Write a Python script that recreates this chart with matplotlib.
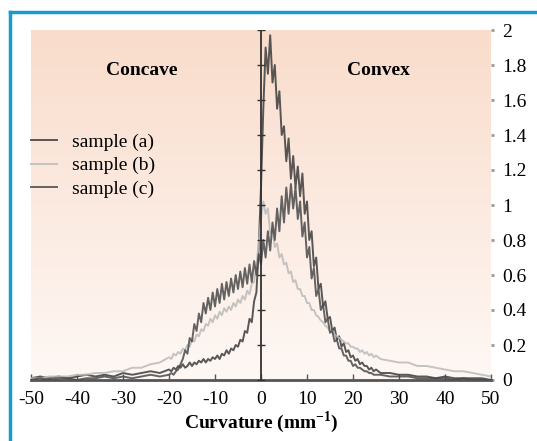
import numpy as np
import matplotlib
matplotlib.use("Agg")
import matplotlib.pyplot as plt
from matplotlib.colors import LinearSegmentedColormap
from matplotlib.lines import Line2D

plt.rcParams["font.family"] = ["Liberation Serif", "DejaVu Serif"]
plt.rcParams["mathtext.fontset"] = "custom"
plt.rcParams["mathtext.rm"] = "Liberation Serif"
plt.rcParams["mathtext.bf"] = "Liberation Serif:bold"

# curvature bins (coarse in the tails, fine in the middle)
x_left = np.arange(-50, -21, 2)
x_mid = np.arange(-20, 25.01, 0.5)
x_right = np.arange(26, 51, 2)
curv = np.concatenate([x_left, x_mid, x_right])

sample_a = [
    0.01, 0.02, 0.01, 0.02, 0.01, 0.02, 0.03, 0.02, 0.03, 0.02, 0.04, 0.03, 0.04, 0.05, 0.04,
    0.06, 0.05, 0.07, 0.06, 0.08, 0.07, 0.09, 0.07, 0.08, 0.10,
    0.08, 0.10, 0.09, 0.11, 0.10, 0.12, 0.10, 0.12, 0.11, 0.13,
    0.12, 0.14, 0.12, 0.15, 0.14, 0.17, 0.15, 0.18, 0.17, 0.20,
    0.19, 0.23, 0.22, 0.28, 0.27, 0.35, 0.33, 0.45, 0.50, 0.75,
    1.10, 1.55, 1.90, 1.75, 1.97, 1.70, 1.80, 1.55, 1.65, 1.40,
    1.45, 1.25, 1.38, 1.15, 1.28, 1.10, 1.22, 1.05, 1.18, 0.95,
    1.02, 0.80, 0.85, 0.65, 0.70, 0.52, 0.55, 0.42, 0.45, 0.35,
    0.36, 0.28, 0.30, 0.23, 0.25, 0.19, 0.21, 0.16, 0.17, 0.13,
    0.14, 0.11, 0.12, 0.09, 0.10, 0.08, 0.08, 0.06, 0.07, 0.05,
    0.06,
    0.04, 0.04, 0.03, 0.03, 0.02, 0.02, 0.01, 0.02, 0.01, 0.01, 0.01, 0.01, 0.00,
]

sample_b = [
    0.01, 0.01, 0.02, 0.02, 0.02, 0.03, 0.03, 0.04, 0.04, 0.05, 0.05, 0.07, 0.07, 0.09, 0.10,
    0.13, 0.12, 0.15, 0.14, 0.16, 0.15, 0.18, 0.17, 0.20, 0.19,
    0.23, 0.22, 0.26, 0.25, 0.29, 0.28, 0.32, 0.31, 0.35, 0.33,
    0.37, 0.35, 0.39, 0.37, 0.41, 0.39, 0.42, 0.40, 0.44, 0.42,
    0.46, 0.44, 0.48, 0.46, 0.51, 0.49, 0.55, 0.56, 0.65, 0.78,
    0.92, 1.02, 0.95, 0.98, 0.84, 0.86, 0.76, 0.78, 0.70, 0.72,
    0.66, 0.67, 0.61, 0.62, 0.56, 0.57, 0.52, 0.52, 0.48, 0.48,
    0.44, 0.44, 0.40, 0.40, 0.37, 0.36, 0.34, 0.33, 0.31, 0.30,
    0.28, 0.28, 0.26, 0.25, 0.24, 0.23, 0.22, 0.21, 0.21, 0.19,
    0.19, 0.18, 0.18, 0.16, 0.17, 0.15, 0.16, 0.14, 0.15, 0.13,
    0.14,
    0.12, 0.11, 0.10, 0.10, 0.08, 0.08, 0.07, 0.06, 0.05, 0.05, 0.04, 0.03, 0.02,
]

sample_c = [
    0.00, 0.01, 0.00, 0.01, 0.01, 0.00, 0.01, 0.01, 0.02, 0.01, 0.02, 0.01, 0.02, 0.03, 0.02,
    0.03, 0.04, 0.03, 0.05, 0.06, 0.09, 0.12, 0.17, 0.15, 0.24,
    0.22, 0.32, 0.28, 0.38, 0.33, 0.44, 0.38, 0.47, 0.40, 0.50,
    0.42, 0.52, 0.44, 0.55, 0.46, 0.56, 0.48, 0.58, 0.50, 0.60,
    0.52, 0.62, 0.53, 0.64, 0.55, 0.66, 0.56, 0.68, 0.60, 0.72,
    0.66, 0.80, 0.70, 0.85, 0.74, 0.90, 0.80, 0.98, 0.85, 1.05,
    0.90, 1.10, 0.95, 1.12, 0.98, 1.10, 0.92, 1.02, 0.82, 0.90,
    0.70, 0.76, 0.58, 0.64, 0.48, 0.52, 0.40, 0.43, 0.33, 0.35,
    0.27, 0.28, 0.22, 0.23, 0.18, 0.18, 0.14, 0.14, 0.11, 0.11,
    0.08, 0.09, 0.07, 0.07, 0.06, 0.05, 0.05, 0.04, 0.04, 0.03,
    0.03,
    0.03, 0.02, 0.02, 0.02, 0.01, 0.01, 0.01, 0.01, 0.00, 0.01, 0.00, 0.00, 0.00,
]

labels = ["sample (a)", "sample (b)", "sample (c)"]
colors = ["#3c3c3c", "#bababa", "#4a4a4a"]
x_ticks = [-50, -40, -30, -20, -10, 0, 10, 20, 30, 40, 50]
y_ticks = [0, 0.2, 0.4, 0.6, 0.8, 1, 1.2, 1.4, 1.6, 1.8, 2]

fig = plt.figure(figsize=(5.37, 4.41), dpi=100)
ax = fig.add_axes([31 / 537, 61 / 441, 460 / 537, 350 / 441])

# peach to white background
bg = LinearSegmentedColormap.from_list("bg", ["#fef8f5", "#f9dccb"])
grad = np.linspace(0, 1, 256).reshape(-1, 1)
ax.imshow(grad, extent=[-50, 50, 0, 2], origin="lower", aspect="auto", cmap=bg, zorder=0)

for ys, lab, c in zip([sample_a, sample_b, sample_c], labels, colors):
    ax.plot(curv, ys, color=c, lw=1.4, alpha=0.85, label=lab, zorder=3)

# central axis with its own small ticks
ax.axvline(0, color="#333333", lw=1.3, zorder=4)
ax.plot(np.zeros(len(y_ticks)), y_ticks, ls="none", marker="_", ms=6, color="#333333", zorder=4)

ax.set_xlim(-50, 50)
ax.set_ylim(0, 2)
for s in ["top", "left", "right"]:
    ax.spines[s].set_visible(False)
ax.spines["bottom"].set_color("#555555")
ax.spines["bottom"].set_linewidth(2)

ax.set_xticks(x_ticks)
ax.set_xticklabels([str(t) for t in x_ticks])
ax.tick_params(axis="x", direction="in", length=4, width=1, color="#555555", pad=8, labelsize=14)
ax.yaxis.tick_right()
ax.set_yticks(y_ticks)
ax.set_yticklabels(["%g" % t for t in y_ticks])
ax.tick_params(axis="y", direction="out", length=2, width=2, color="#999999", pad=6, labelsize=14)

ax.set_xlabel(r"Curvature (mm$^{\mathbf{-1}}$)", fontsize=14, fontweight="bold", labelpad=1)

ax.text(-26, 1.77, "Concave", fontsize=14, fontweight="bold", ha="center", va="center")
ax.text(25.6, 1.77, "Convex", fontsize=14, fontweight="bold", ha="center", va="center")

ax.legend(loc="upper left", bbox_to_anchor=(0, 0.705), frameon=False, fontsize=14,
          handlelength=1.35, handletextpad=0.75, labelspacing=0.3, borderpad=0,
          borderaxespad=0)

# teal frame (left and top edge)
fc = "#1a9ac8"
fig.add_artist(Line2D([10 / 537, 10 / 537], [0, 1 - 12 / 441], transform=fig.transFigure, color=fc, lw=2.5))
fig.add_artist(Line2D([10 / 537, 1], [1 - 12 / 441, 1 - 12 / 441], transform=fig.transFigure, color=fc, lw=2.5))

fig.savefig("out.png", dpi=100)
